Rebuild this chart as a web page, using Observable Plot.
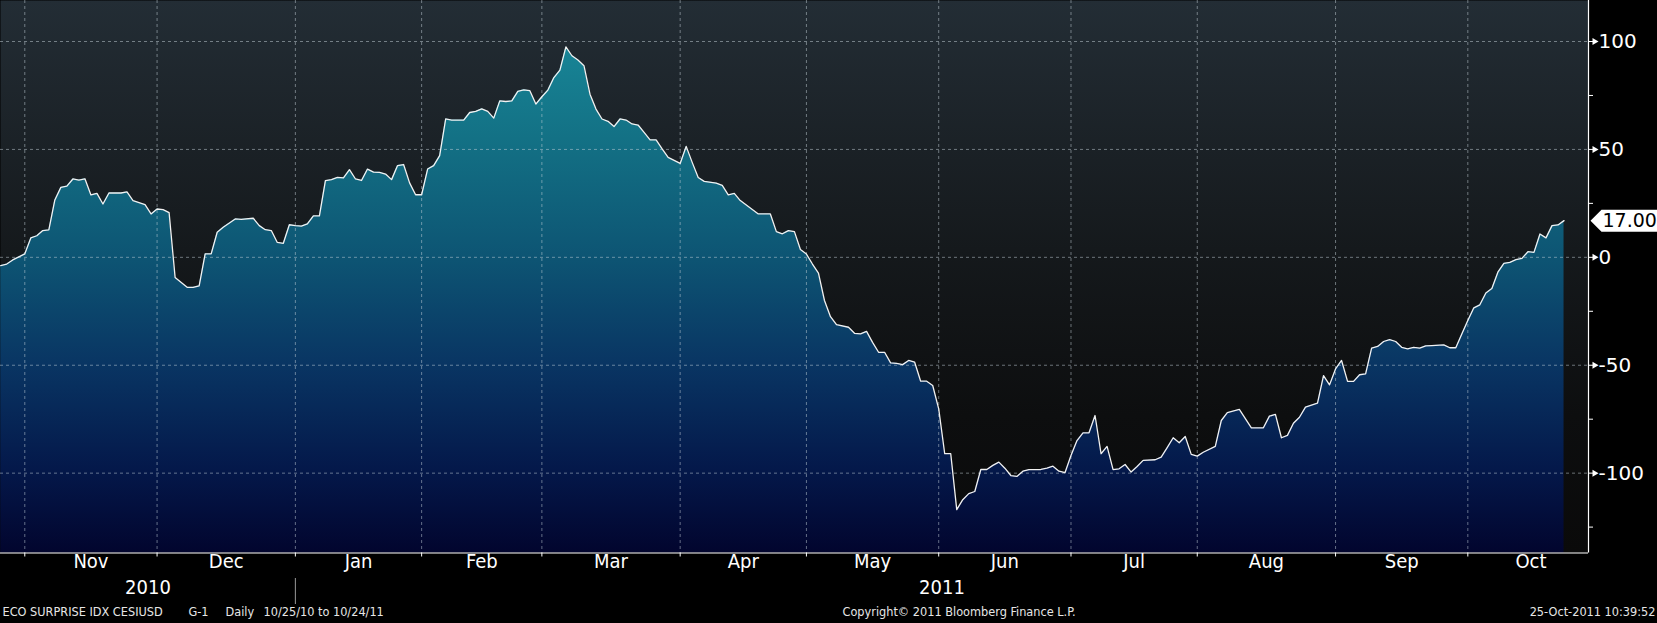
<!DOCTYPE html>
<html><head><meta charset="utf-8">
<script src="https://cdn.jsdelivr.net/npm/d3@7"></script>
<script src="https://cdn.jsdelivr.net/npm/@observablehq/plot@0.6"></script>
<style>
html,body{margin:0;padding:0;background:#000;}
#chart{width:1657px;height:623px;}
</style></head><body><div id="chart"></div>
<script>
// trading-day number since 25 Oct 2010 (weekdays only)
const tradingDay = [
  0,1,2,4,5,6,7,8,9,10,
  11,12,13,14,15,16,17,18,20,21,
  22,24,25,26,27,28,29,31,32,33,
  34,35,36,37,39,40,42,43,44,45,
  46,47,48,49,50,51,52,53,54,55,
  56,57,58,59,60,61,62,63,64,65,
  66,67,68,69,70,71,72,73,74,75,
  77,78,79,80,81,82,83,84,85,86,
  87,88,89,90,91,92,93,94,95,96,
  97,98,99,100,101,102,103,104,105,106,
  107,108,109,110,111,113,114,115,116,117,
  119,120,121,122,123,126,128,129,130,131,
  132,133,134,135,136,137,138,139,141,142,
  143,144,145,146,147,148,149,150,151,152,
  153,154,155,156,157,158,159,160,161,162,
  163,164,165,166,167,168,169,170,171,173,
  174,175,176,177,178,179,180,181,182,183,
  184,185,186,187,188,189,190,192,193,194,
  195,196,197,198,199,200,202,203,204,206,
  208,210,211,212,213,214,215,216,217,219,
  220,221,222,223,224,225,226,227,228,229,
  230,231,232,233,234,235,236,237,238,240,
  241,242,243,244,245,246,247,248,249,250,
  251,252,253,254,255,256,257,258,259,260
];
const cesi = [
  -3.8,-3.1,-1.2,1.6,9.0,10.0,12.4,12.7,26.6,32.4,
  33.0,36.3,35.8,36.4,28.9,29.6,24.7,29.8,29.8,30.3,
  26.3,24.4,20.1,22.4,22.1,20.7,-9.3,-13.9,-13.9,-13.2,
  1.6,1.6,11.6,13.9,17.8,17.6,18.1,14.7,12.8,12.4,
  6.9,6.5,15.1,14.7,14.5,15.5,19.2,19.2,35.5,36.0,
  37.0,36.8,40.6,36.3,35.6,40.9,39.5,39.4,38.6,36.0,
  42.5,43.0,34.5,29.0,29.0,40.9,42.5,47.1,64.1,63.6,
  63.6,67.1,67.6,68.8,67.6,64.5,72.5,72.2,72.5,76.9,
  77.6,77.2,71.0,74.4,77.5,83.3,86.7,97.5,93.4,91.4,
  88.8,75.6,68.7,64.1,63.0,60.6,64.1,63.6,61.8,61.3,
  57.9,54.4,54.4,50.2,46.3,43.5,51.4,44.0,37.0,35.2,
  34.4,33.3,28.9,29.6,26.3,20.1,20.1,11.9,10.9,12.4,
  11.9,3.6,1.5,-3.1,-7.3,-20.0,-27.5,-31.2,-32.4,-35.2,
  -35.5,-34.3,-39.4,-44.0,-44.0,-48.9,-49.1,-49.7,-47.8,-48.6,
  -57.4,-57.4,-59.4,-70.2,-91.0,-91.0,-116.9,-112.3,-109.5,-108.5,
  -98.3,-98.3,-96.4,-94.9,-97.7,-101.1,-101.5,-99.1,-98.4,-98.3,
  -97.7,-96.8,-99.1,-99.8,-91.8,-84.9,-81.3,-81.3,-73.3,-91.0,
  -87.6,-98.4,-98.0,-96.0,-99.5,-96.9,-94.1,-93.8,-92.6,-88.2,
  -83.6,-85.9,-83.0,-91.3,-92.1,-90.3,-87.6,-75.6,-72.0,-70.5,
  -79.0,-79.0,-73.6,-72.8,-83.6,-82.5,-76.9,-74.1,-69.4,-67.6,
  -54.8,-59.1,-51.7,-47.8,-57.5,-57.5,-54.4,-54.0,-42.1,-41.3,
  -39.0,-38.1,-39.0,-41.7,-42.4,-41.7,-42.1,-41.0,-40.9,-40.6,
  -41.9,-41.9,-35.5,-29.3,-23.4,-22.0,-16.5,-14.4,-6.9,-2.8,
  -2.3,-1.1,-0.5,2.6,2.3,10.8,9.0,14.7,15.0,17.0
];
const monthLabels = ["Nov","Dec","Jan","Feb","Mar","Apr","May","Jun","Jul","Aug","Sep","Oct"];
const yearLabels = ["2010","2011"];
const majorTicks = [100, 50, 0, -50, -100];
const minorTicks = [75, 25, -25, -75, -125];
const footerLeft = ["ECO SURPRISE IDX CESIUSD", "G-1", "Daily", "10/25/10 to 10/24/11"];
const footerCenter = ["Copyright\u00A9 2011 Bloomberg Finance L.P."];
const footerRight = ["25-Oct-2011 10:39:52"];
const startDate = new Date(2010, 9, 25);

const data = tradingDay.map((d, i) => ({day: d, v: cesi[i]}));
const xDomain = [-0.04, 264.07];
const yDomain = [-137, 119];

// weekday calendar -> month boundaries (last weekday of each month)
const cal = [];
for (let d = new Date(startDate); cal.length < 275; d.setDate(d.getDate() + 1)) {
  const w = d.getDay();
  if (w !== 0 && w !== 6) cal.push(new Date(d));
}
const monthBounds = [];
for (let i = 0; i < cal.length - 1; i++) if (cal[i + 1].getMonth() !== cal[i].getMonth()) monthBounds.push(i);
const ticksIn = monthBounds.filter(t => t >= xDomain[0] && t <= xDomain[1]);
const monthPos = monthLabels.map((m, k) => ({m, x: (monthBounds[k] + monthBounds[k + 1]) / 2}));
const yearBound = monthBounds.find(i => cal[i + 1].getFullYear() !== cal[i].getFullYear());
const yearPos = [
  {t: yearLabels[0], x: (xDomain[0] + yearBound) / 2},
  {t: yearLabels[1], x: (yearBound + xDomain[1]) / 2}
];
const lastValue = cesi[cesi.length - 1];

const pointerBox = {draw(ctx) {
  ctx.moveTo(2, 0); ctx.lineTo(13, -11); ctx.lineTo(71, -11);
  ctx.lineTo(71, 11); ctx.lineTo(13, 11); ctx.closePath();
}};

const gridStyle = {stroke: "#c8d4dc", strokeOpacity: 0.5, strokeDasharray: "3,3", strokeWidth: 1};
const cond = "DejaVu Sans Condensed, DejaVu Sans";
const H = 552.5;

const plot = Plot.plot({
  width: 1657, height: 623,
  marginTop: 0, marginLeft: 0, marginRight: 69, marginBottom: 623 - H,
  style: {background: "#000", color: "#fff", fontFamily: "DejaVu Sans", overflow: "visible"},
  x: {type: "linear", domain: xDomain},
  y: {domain: yDomain},
  marks: [
    Plot.frame({fill: "url(#bgGrad)", stroke: "none"}),
    Plot.areaY(data, {x: "day", y1: () => yDomain[0], y2: "v", fill: "url(#areaGrad)"}),
    Plot.ruleY(majorTicks, {...gridStyle}),
    Plot.ruleX(ticksIn, {...gridStyle}),
    Plot.lineY(data, {x: "day", y: "v", stroke: "#f2f2f2", strokeWidth: 1.3}),
    Plot.ruleY([yDomain[0]], {stroke: "#fff", strokeWidth: 1.2}),
    Plot.ruleX([xDomain[1]], {stroke: "#fff", strokeWidth: 1.2}),
    Plot.axisY({anchor: "right", ticks: majorTicks, tickSize: 5, tickFormat: () => "", stroke: "#fff", label: null}),
    Plot.axisY({anchor: "right", ticks: minorTicks, tickSize: 4, tickFormat: () => "", stroke: "#fff", label: null}),
    Plot.dot(majorTicks, {x: () => xDomain[1], y: d => d, symbol: "triangle", rotate: 90, r: 2.6, fill: "#fff", stroke: "none", dx: 6}),
    Plot.text(majorTicks, {x: () => xDomain[1], y: d => d, text: d => String(d), textAnchor: "start", dx: 10, fill: "#fff", fontSize: 20, fontFamily: "DejaVu Sans"}),
    Plot.axisX({anchor: "bottom", ticks: ticksIn, tickSize: 4, tickFormat: () => "", stroke: "#fff", label: null}),
    Plot.text(monthPos, {x: "x", text: "m", frameAnchor: "bottom", dy: 15, fill: "#fff", fontSize: 20, fontFamily: cond}),
    Plot.text(yearPos, {x: "x", text: "t", frameAnchor: "bottom", dy: 41, fill: "#fff", fontSize: 20, fontFamily: cond}),
    Plot.ruleX([yearBound], {stroke: "#9a9a9a", strokeWidth: 1, insetTop: H - 26, dy: 51.5}),
    Plot.dot([lastValue], {x: () => xDomain[1], y: d => d, symbol: pointerBox, r: 1, fill: "#fff", stroke: "none"}),
    Plot.text([lastValue], {x: () => xDomain[1], y: d => d, text: d => d3.format(".2f")(d), textAnchor: "start", dx: 14, fill: "#000", fontSize: 19, fontFamily: "DejaVu Sans"}),
    Plot.text([footerLeft[0]], {text: d => d, frameAnchor: "bottom-left", textAnchor: "start", dx: 2, dy: 62.5, fill: "#e6e6e6", fontSize: 12.6, fontFamily: cond}),
    Plot.text([footerLeft[1]], {text: d => d, frameAnchor: "bottom-left", textAnchor: "start", dx: 188, dy: 62.5, fill: "#e6e6e6", fontSize: 12.6, fontFamily: cond}),
    Plot.text([footerLeft[2]], {text: d => d, frameAnchor: "bottom-left", textAnchor: "start", dx: 225, dy: 62.5, fill: "#e6e6e6", fontSize: 12.6, fontFamily: cond}),
    Plot.text([footerLeft[3]], {text: d => d, frameAnchor: "bottom-left", textAnchor: "start", dx: 263, dy: 62.5, fill: "#e6e6e6", fontSize: 12.6, fontFamily: cond}),
    Plot.text(footerCenter, {text: d => d, frameAnchor: "bottom-left", textAnchor: "start", dx: 842, dy: 62.5, fill: "#e6e6e6", fontSize: 12.6, fontFamily: cond}),
    Plot.text(footerRight, {text: d => d, frameAnchor: "bottom-right", textAnchor: "end", dx: 67, dy: 62.5, fill: "#e6e6e6", fontSize: 12.6, fontFamily: cond})
  ]
});

const svg = plot.tagName.toLowerCase() === "svg" ? plot : plot.querySelector("svg");
const yb = plot.scale("y").apply(yDomain[0]);
const ns = "http://www.w3.org/2000/svg";
const defs = document.createElementNS(ns, "defs");
defs.innerHTML = `
<linearGradient id="bgGrad" gradientUnits="userSpaceOnUse" x1="0" y1="0" x2="0" y2="${yb}">
  <stop offset="0" stop-color="#232d35"/>
  <stop offset="0.45" stop-color="#15191c"/>
  <stop offset="0.75" stop-color="#0d0e0f"/>
  <stop offset="1" stop-color="#0a0a0a"/>
</linearGradient>
<linearGradient id="areaGrad" gradientUnits="userSpaceOnUse" x1="0" y1="0" x2="0" y2="${yb}">
  <stop offset="0" stop-color="#1a8e9e"/>
  <stop offset="0.25" stop-color="#137185"/>
  <stop offset="0.47" stop-color="#0d5473"/>
  <stop offset="0.66" stop-color="#093563"/>
  <stop offset="0.85" stop-color="#04184a"/>
  <stop offset="1" stop-color="#02052e"/>
</linearGradient>`;
svg.insertBefore(defs, svg.firstChild);
document.getElementById("chart").appendChild(plot);
</script>
</body></html>
